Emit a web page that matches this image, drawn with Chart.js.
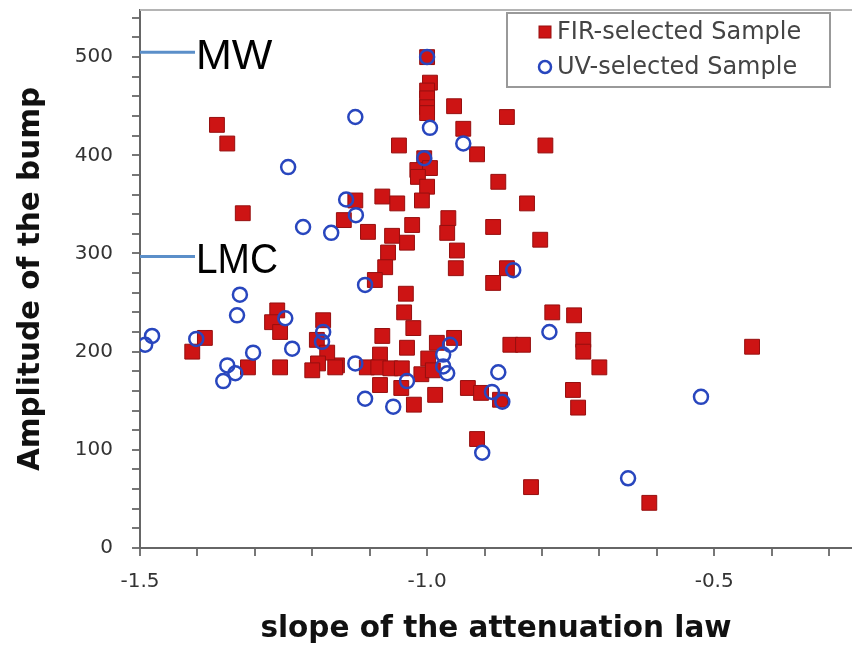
<!DOCTYPE html>
<html>
<head>
<meta charset="utf-8">
<script src="https://cdn.jsdelivr.net/npm/chart.js@4.4.1/dist/chart.umd.min.js"></script>
<style>
  body { margin: 0; background: #fff; }
</style>
</head>
<body>
<canvas id="chart" width="852" height="647"></canvas>
<script>
// FIR-selected sample (red squares)
const firSlope = [
    -1.000, -0.995, -1.000, -1.000, -1.000, -1.000, -0.953, -0.861, -0.937, -0.913,
    -1.049, -1.005, -1.017, -0.995, -1.016, -1.000, -1.009, -0.876, -0.826, -1.078,
    -1.052, -1.125, -1.145, -1.103, -1.026, -0.963, -0.965, -0.885, -1.061, -1.366,
    -1.348, -1.321, -0.794, -0.803, -1.035, -1.068, -1.073, -1.091, -0.948, -0.950,
    -0.861, -0.885, -1.037, -1.040, -1.024, -1.078, -1.035, -0.953, -0.983, -0.998,
    -1.082, -1.157, -1.105, -1.085, -1.064, -1.044, -1.010, -0.990, -1.082, -1.045,
    -0.986, -1.023, -0.929, -0.906, -0.873, -0.782, -0.744, -0.855, -0.833, -0.728,
    -0.728, -0.700, -0.434, -0.746, -0.737, -0.913, -0.819, -0.613, -1.261, -1.270,
    -1.256, -1.387, -1.409, -1.312, -1.256, -1.181, -1.192, -1.174, -1.190, -1.200,
    -1.160
]
const firBump = [
    500, 474, 466, 458, 449, 443, 450, 439, 427, 401,
    410, 397, 385, 387, 378, 368, 354, 373, 351, 358,
    351, 354, 334, 322, 329, 336, 321, 327, 318, 431,
    412, 341, 410, 314, 311, 301, 286, 273, 303, 285,
    285, 270, 259, 240, 224, 216, 204, 214, 209, 193,
    197, 186, 184, 184, 183, 183, 177, 181, 166, 163,
    156, 146, 163, 158, 151, 240, 237, 207, 207, 212,
    200, 184, 205, 161, 143, 111, 62, 46, 242, 230,
    220, 214, 200, 184, 184, 232, 212, 199, 188, 181,
    184
]

// UV-selected sample (blue open circles)
const uvSlope = [
    -1.000, -0.995, -1.125, -0.937, -1.005, -1.242, -1.141, -1.124, -1.216, -1.167,
    -1.108, -0.850, -1.326, -1.331, -1.491, -1.479, -1.402, -1.348, -1.355, -1.334,
    -1.303, -1.247, -1.235, -1.181, -1.183, -1.125, -1.108, -1.059, -1.035, -0.960,
    -0.972, -0.972, -0.965, -0.876, -0.887, -0.869, -0.787, -0.523, -0.904, -0.650
]
const uvBump = [
    500, 428, 439, 412, 397, 388, 355, 339, 327, 321,
    268, 283, 258, 237, 207, 216, 213, 186, 170, 178,
    199, 234, 203, 220, 210, 188, 152, 144, 170, 207,
    197, 185, 178, 179, 159, 149, 220, 154, 97, 71
]

const xTickLabels = [-1.5, -1.0, -0.5]
const yTickLabels = [0, 100, 200, 300, 400, 500]

// reference bumps marked by hand on the figure
const refNames = ["MW", "LMC"]
const refBump = [505, 297]

const legendNames = ["FIR-selected Sample", "UV-selected Sample"]

const firColor = "rgb(205, 20, 20)"
const uvColor = "rgb(40, 70, 190)"

const toPoints = (xs, ys) => xs.map((x, i) => ({ x: x, y: ys[i] }))

const extras = {
    id: "extras",
    beforeDatasetsDraw(chart) {
        const { ctx, chartArea: a } = chart
        ctx.save()
        ctx.strokeStyle = "#b4b4b4"
        ctx.lineWidth = 2
        ctx.beginPath()
        ctx.moveTo(a.left, a.top)
        ctx.lineTo(a.right, a.top)
        ctx.stroke()
        ctx.restore()
    },
    afterDraw(chart) {
        const { ctx, chartArea: a, scales } = chart
        ctx.save()

        // MW / LMC marks
        refNames.forEach((name, i) => {
            const py = scales.y.getPixelForValue(refBump[i])
            ctx.strokeStyle = "#5b8fc9"
            ctx.lineWidth = 3
            ctx.beginPath()
            ctx.moveTo(a.left, py)
            ctx.lineTo(a.left + 55, py)
            ctx.stroke()
            ctx.fillStyle = "#000"
            ctx.font = "43px 'Liberation Sans'"
            ctx.textBaseline = "middle"
            ctx.textAlign = "left"
            ctx.fillText(name, a.left + 56, py + 5, 82)
        })

        // legend box
        const lx = 507, ly = 13, lw = 323, lh = 74
        ctx.fillStyle = "#fff"
        ctx.fillRect(lx, ly, lw, lh)
        ctx.strokeStyle = "#999"
        ctx.lineWidth = 2
        ctx.strokeRect(lx, ly, lw, lh)

        ctx.fillStyle = firColor
        ctx.strokeStyle = "rgb(150, 15, 15)"
        ctx.lineWidth = 1
        ctx.fillRect(539, 26, 12, 12)
        ctx.strokeRect(539, 26, 12, 12)

        ctx.strokeStyle = uvColor
        ctx.lineWidth = 2.5
        ctx.beginPath()
        ctx.arc(545, 67, 6, 0, Math.PI * 2)
        ctx.stroke()

        ctx.fillStyle = "#444"
        ctx.font = "24px 'DejaVu Sans'"
        ctx.textBaseline = "middle"
        ctx.fillText(legendNames[0], 557, 33)
        ctx.fillText(legendNames[1], 557, 68)

        ctx.restore()
    }
}

new Chart("chart", {
    type: "scatter",
    data: {
        datasets: [{
            label: legendNames[1],
            data: toPoints(uvSlope, uvBump),
            pointStyle: "circle",
            pointRadius: 7,
            borderWidth: 2.5,
            borderColor: uvColor,
            backgroundColor: "rgba(0, 0, 0, 0)"
        }, {
            label: legendNames[0],
            data: toPoints(firSlope, firBump),
            pointStyle: "rect",
            pointRadius: 10.5,
            borderWidth: 1,
            borderColor: "rgb(150, 15, 15)",
            backgroundColor: firColor
        }]
    },
    options: {
        responsive: false,
        animation: false,
        layout: {
            autoPadding: false,
            padding: { top: 10, right: 0, bottom: 0, left: 0 }
        },
        plugins: {
            legend: { display: false },
            tooltip: { enabled: false }
        },
        scales: {
            x: {
                type: "linear",
                min: -1.5,
                max: -0.26,
                afterFit: (scale) => {
                    scale.height = 99
                    scale.paddingLeft = 0
                    scale.paddingRight = 0
                },
                ticks: {
                    stepSize: 0.1,
                    includeBounds: false,
                    autoSkip: false,
                    maxRotation: 0,
                    padding: 14,
                    color: "#333",
                    font: { family: "DejaVu Sans", size: 20 },
                    callback: function(value) {
                        const v = Math.round(value * 10) / 10
                        return xTickLabels.some((t) => Math.abs(t - v) < 1e-6) ? v.toFixed(1) : ""
                    }
                },
                grid: {
                    drawOnChartArea: false,
                    tickLength: 8,
                    tickColor: "#777",
                    lineWidth: 2
                },
                border: { color: "#666", width: 2 },
                title: {
                    display: true,
                    text: "slope of the attenuation law",
                    color: "#111",
                    font: { family: "DejaVu Sans", size: 29.5, weight: "bold" },
                    padding: { top: 0, bottom: 0 }
                }
            },
            y: {
                type: "linear",
                min: 0,
                max: 548,
                afterFit: (scale) => {
                    scale.width = 140
                    scale.paddingTop = 0
                    scale.paddingBottom = 0
                },
                ticks: {
                    stepSize: 20,
                    includeBounds: false,
                    autoSkip: false,
                    padding: 19,
                    color: "#333",
                    font: { family: "DejaVu Sans", size: 20 },
                    callback: function(value) {
                        const v = Math.round(value)
                        return yTickLabels.includes(v) ? String(v) : ""
                    }
                },
                grid: {
                    drawOnChartArea: false,
                    tickLength: 8,
                    tickColor: "#777",
                    lineWidth: 2
                },
                border: { color: "#666", width: 2 },
                title: {
                    display: true,
                    text: "Amplitude of the bump",
                    color: "#111",
                    font: { family: "DejaVu Sans", size: 29.5, weight: "bold" },
                    padding: { top: 14, bottom: 0 }
                }
            }
        }
    },
    plugins: [extras]
})
</script>
</body>
</html>
